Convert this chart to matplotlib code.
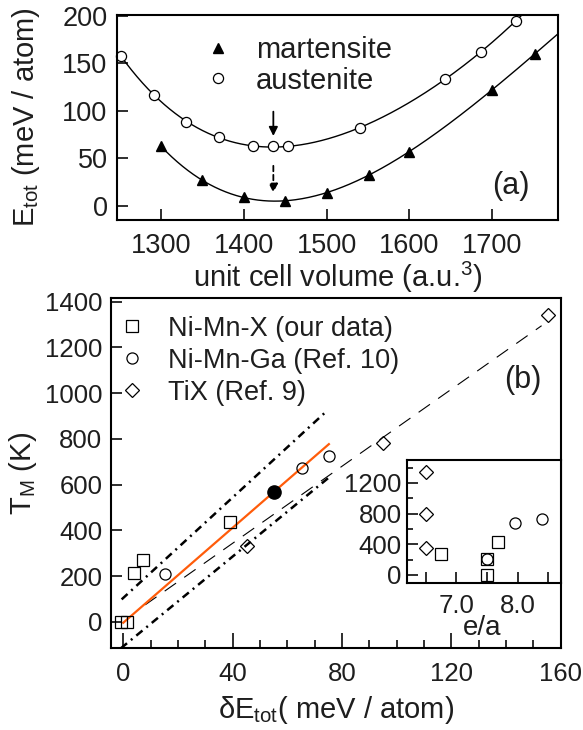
import numpy as np
import matplotlib
matplotlib.use('Agg')
import matplotlib.pyplot as plt
from matplotlib.ticker import MultipleLocator, FixedLocator

plt.rcParams['font.family'] = ['Liberation Sans', 'DejaVu Sans']
plt.rcParams['mathtext.fontset'] = 'custom'
plt.rcParams['mathtext.rm'] = 'Liberation Sans'
plt.rcParams['mathtext.it'] = 'Liberation Sans:italic'
plt.rcParams['axes.linewidth'] = 1.5

# ---- panel (a): total energy vs. unit cell volume ----
aus_vol = [1251, 1291, 1330, 1370, 1411, 1435, 1453, 1540, 1643, 1686, 1729]
aus_e = [158, 117, 88, 72.5, 62.5, 62.5, 62.5, 81.5, 133, 162, 194.5]
mar_vol = [1300, 1349, 1400, 1450, 1500, 1551, 1600, 1700, 1752]
mar_e = [62.5, 27, 8.8, 5.3, 13.7, 32.3, 57, 122, 160]

# arrows marking the equilibrium volume
arrow_vol = 1435.6
solid_arrow_e = [99, 73.4]
dashed_arrow_e = [42, 13.7]

# ---- panel (b): T_M vs. delta E_tot ----
nmx_de = [-0.8, 1.2, 3.9, 7.1, 39.0]
nmx_t = [0, 0, 212, 270, 435]
nmg_de = [15.3, 65.3, 75.2]
nmg_t = [209, 674, 725]
tix_de = [45.1, 95.1, 155.3]
tix_t = [333, 780, 1342]
ours_de = [55.0]
ours_t = [567]

fit_de = [0, 75.2]
fit_t = [-4, 777]
upper_de = [-0.6, 74.8]
upper_t = [98, 926]
lower_de = [-0.9, 75.5]
lower_t = [-116, 634]
tix_fit_de = [8, 153]
tix_fit_t = [74, 1295]

# ---- inset: T_M vs. e/a ----
ins_nmx_ea = [7.5, 7.5, 6.75, 7.68]
ins_nmx_t = [0, 215, 274, 434]
ins_nmg_ea = [7.5, 7.96, 8.39]
ins_nmg_t = [215, 681, 725]
ins_tix_ea = [6.5, 6.5, 6.5]
ins_tix_t = [1343, 792, 349]

txt = '#1e1e1e'
orange = '#ff5c0a'
label_fs = 21

fig = plt.figure(figsize=(5.83, 7.3), dpi=100)

# ================= panel (a) =================
ax1 = fig.add_axes([0.2012, 0.6986, 0.7564, 0.2813])

# smooth fits through the calculated points
p_aus = np.polyfit(aus_vol, aus_e, 4)
p_mar = np.polyfit(mar_vol, mar_e, 4)
v_aus = np.linspace(aus_vol[0], 1745, 300)
v_mar = np.linspace(mar_vol[0], 1785, 300)
ax1.plot(v_aus, np.polyval(p_aus, v_aus), color='k', lw=1.0)
ax1.plot(v_mar, np.polyval(p_mar, v_mar), color='k', lw=1.0)

ax1.plot(mar_vol, mar_e, '^', ms=7.5, mfc='k', mec='k', label='martensite', clip_on=False)
ax1.plot(aus_vol, aus_e, 'o', ms=7.3, mfc='white', mec='k', mew=0.9, label='austenite', clip_on=False)

ax1.annotate('', xy=(arrow_vol, solid_arrow_e[1]), xytext=(arrow_vol, solid_arrow_e[0]),
             arrowprops=dict(arrowstyle='-|>', color='k', lw=1.3, mutation_scale=13,
                             shrinkA=0, shrinkB=0))
ax1.annotate('', xy=(arrow_vol, dashed_arrow_e[1]), xytext=(arrow_vol, dashed_arrow_e[0]),
             arrowprops=dict(arrowstyle='-|>', color='k', lw=1.3, mutation_scale=13,
                             shrinkA=0, shrinkB=0, linestyle=(0, (3, 2))))

ax1.set_xlim(1247, 1780)
ax1.set_ylim(-15, 201)
ax1.xaxis.set_major_locator(FixedLocator([1300, 1400, 1500, 1600, 1700]))
ax1.yaxis.set_major_locator(MultipleLocator(50))
ax1.tick_params(direction='in', length=8, width=1.3, labelsize=19.5, colors=txt)
ax1.tick_params(axis='x', pad=9)
ax1.tick_params(axis='y', pad=7)
ax1.tick_params(top=False, right=False)

ax1.set_xlabel('unit cell volume (a.u.$^{\\mathregular{3}}$)', fontsize=label_fs, color=txt, va='baseline')
ax1.xaxis.set_label_coords(0.5, -0.325)
ax1.set_ylabel('E$_{\\mathregular{tot}}$ (meV / atom)', fontsize=label_fs, color=txt, va='center')
ax1.yaxis.set_label_coords(-0.207, 0.5)

ax1.text(0.893, 0.166, '(a)', transform=ax1.transAxes, fontsize=22, color=txt,
         ha='center', va='center')
ax1.legend(loc='upper left', bbox_to_anchor=(0.196, 0.895), frameon=False, fontsize=21,
           handlelength=1.0, handletextpad=0.8, labelspacing=0.08, borderpad=0,
           borderaxespad=0, labelcolor=txt)

# ================= panel (b) =================
ax2 = fig.add_axes([0.1899, 0.1119, 0.7719, 0.4795])

ax2.plot(tix_fit_de, tix_fit_t, color='k', lw=0.8, linestyle=(0, (12.5, 9)))
ax2.plot(upper_de, upper_t, color='k', lw=1.8, linestyle=(0, (3.2, 2, 0.8, 2)))
ax2.plot(lower_de, lower_t, color='k', lw=1.8, linestyle=(0, (3.2, 2, 0.8, 2)))
ax2.plot(fit_de, fit_t, color=orange, lw=1.6)

ax2.plot(nmx_de, nmx_t, 's', ms=8, mfc='none', mec='k', mew=0.9, label='Ni-Mn-X (our data)')
ax2.plot(nmg_de, nmg_t, 'o', ms=8, mfc='none', mec='k', mew=0.9, label='Ni-Mn-Ga (Ref. 10)')
ax2.plot(tix_de, tix_t, 'D', ms=7, mfc='none', mec='k', mew=0.9, label='TiX (Ref. 9)')
ax2.plot(ours_de, ours_t, 'o', ms=9.5, mfc='k', mec='k')

ax2.set_xlim(-4.6, 160)
ax2.set_ylim(-116, 1415)
ax2.xaxis.set_major_locator(MultipleLocator(40))
ax2.xaxis.set_minor_locator(MultipleLocator(10))
ax2.yaxis.set_major_locator(MultipleLocator(200))
ax2.tick_params(direction='in', which='both', width=1.3, labelsize=18.5, colors=txt,
                top=False, right=False)
ax2.tick_params(axis='x', which='major', length=11, pad=10)
ax2.tick_params(axis='x', which='minor', length=6)
ax2.tick_params(axis='y', which='major', length=8, pad=6)

ax2.set_xlabel('$\\mathregular{\\delta}$E$_{\\mathregular{tot}}$( meV / atom)', fontsize=label_fs,
               color=txt, va='baseline')
ax2.xaxis.set_label_coords(0.5, -0.2)
ax2.set_ylabel('T$_{\\mathregular{M}}$ (K)', fontsize=label_fs, color=txt, va='center')
ax2.yaxis.set_label_coords(-0.195, 0.5)

ax2.text(146, 1057, '(b)', fontsize=22, color=txt, ha='center', va='center')
ax2.legend(loc='upper left', bbox_to_anchor=(0.018, 0.950), frameon=False, fontsize=19.5,
           handlelength=1.0, handletextpad=0.8, labelspacing=0.22, borderpad=0,
           borderaxespad=0, labelcolor=txt)

# ================= inset =================
ax3 = fig.add_axes([0.6986, 0.2010, 0.2631, 0.1689])
ax3.set_facecolor('white')
ax3.plot(ins_nmx_ea, ins_nmx_t, 's', ms=8, mfc='none', mec='k', mew=0.9)
ax3.plot(ins_nmg_ea, ins_nmg_t, 'o', ms=8, mfc='none', mec='k', mew=0.9)
ax3.plot(ins_tix_ea, ins_tix_t, 'D', ms=7, mfc='none', mec='k', mew=0.9)
ax3.set_xlim(6.2, 8.7)
ax3.set_ylim(-108, 1500)
ax3.xaxis.set_major_locator(FixedLocator([7.0, 8.0]))
ax3.xaxis.set_minor_locator(FixedLocator([6.5, 7.5, 8.5]))
ax3.xaxis.set_major_formatter(plt.FuncFormatter(lambda v, p: '%.1f' % v))
ax3.yaxis.set_major_locator(MultipleLocator(400))
ax3.yaxis.set_minor_locator(MultipleLocator(200))
ax3.tick_params(direction='in', which='both', width=1.3, labelsize=18.5, colors=txt,
                top=False, right=False)
ax3.tick_params(axis='x', which='both', length=8, pad=8)
ax3.tick_params(axis='y', which='major', length=8, pad=4)
ax3.tick_params(axis='y', which='minor', length=4)
ax3.set_xlabel('e/a', fontsize=20, color=txt, va='top')
ax3.xaxis.set_label_coords(0.49, -0.26)

fig.savefig('out.png', dpi=100)
